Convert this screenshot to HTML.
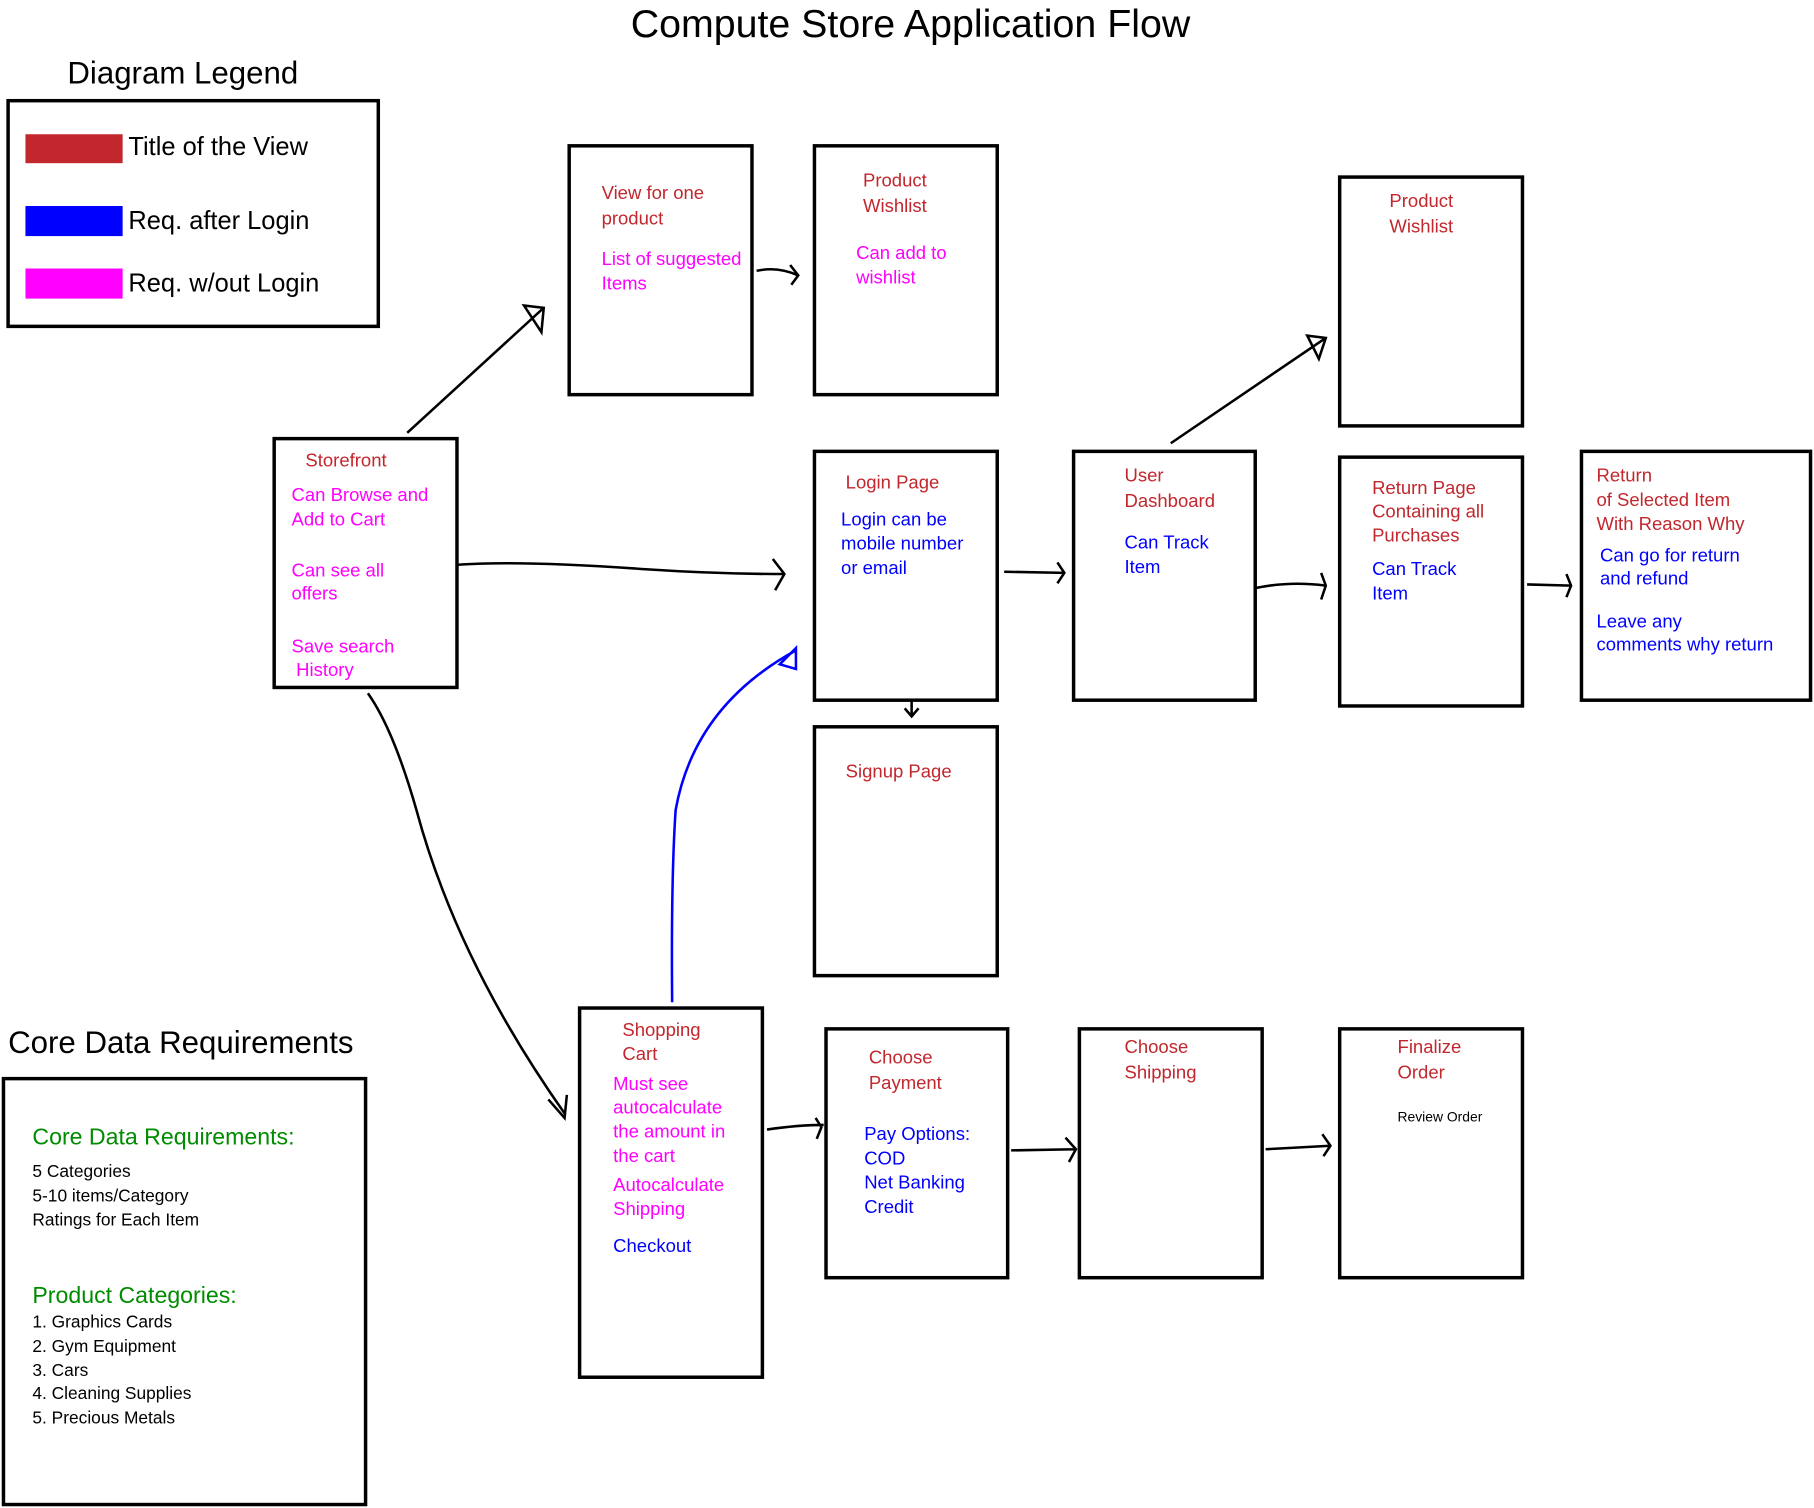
<!DOCTYPE html>
<html><head><meta charset="utf-8"><style>
html,body{margin:0;padding:0;background:#fff;}
svg{display:block;}
text{font-family:"Liberation Sans","DejaVu Sans",sans-serif;}
.r{fill:#c1272d;font-size:16px;}
.m{fill:#ff00ff;font-size:16px;}
.b{fill:#0000ff;font-size:16px;}
.k{fill:#000;font-size:15px;}
.g{fill:#008c00;font-size:20px;}
.box{fill:none;stroke:#000;stroke-width:3;}
.ln{fill:none;stroke:#000;stroke-width:2.2;}
</style></head><body>
<svg width="1814" height="1508" viewBox="0 0 1568 1303" preserveAspectRatio="none" xmlns="http://www.w3.org/2000/svg">
<text x="787" y="32" text-anchor="middle" font-size="34" fill="#000">Compute Store Application Flow</text>
<text x="158" y="72" text-anchor="middle" font-size="27" fill="#000">Diagram Legend</text>
<rect x="7" y="87" width="320" height="195" class="box"/>
<rect x="22" y="116" width="84" height="25" fill="#c1272d"/>
<rect x="22" y="178" width="84" height="26" fill="#0000ff"/>
<rect x="22" y="232" width="84" height="26" fill="#ff00ff"/>
<text x="111" y="134" font-size="22">Title of the View</text>
<text x="111" y="198" font-size="22">Req. after Login</text>
<text x="111" y="252" font-size="22">Req. w/out Login</text>

<text x="7" y="910" font-size="27" fill="#000">Core Data Requirements</text>
<rect x="3" y="932" width="313" height="368" class="box"/>
<text x="28" y="989" class="g">Core Data Requirements:</text>
<text x="28" y="1017" class="k">5 Categories</text>
<text x="28" y="1038" class="k">5-10 items/Category</text>
<text x="28" y="1059" class="k">Ratings for Each Item</text>
<text x="28" y="1126" class="g">Product Categories:</text>
<text x="28" y="1147" class="k">1. Graphics Cards</text>
<text x="28" y="1168" class="k">2. Gym Equipment</text>
<text x="28" y="1189" class="k">3. Cars</text>
<text x="28" y="1209" class="k">4. Cleaning Supplies</text>
<text x="28" y="1230" class="k">5. Precious Metals</text>

<!-- boxes -->
<rect x="237" y="379" width="158" height="215" class="box"/>
<text x="264" y="403" class="r">Storefront</text>
<text x="252" y="433" class="m">Can Browse and</text>
<text x="252" y="454" class="m">Add to Cart</text>
<text x="252" y="498" class="m">Can see all</text>
<text x="252" y="518" class="m">offers</text>
<text x="252" y="564" class="m">Save search</text>
<text x="256" y="584" class="m">History</text>

<rect x="492" y="126" width="158" height="215" class="box"/>
<text x="520" y="172" class="r">View for one</text>
<text x="520" y="194" class="r">product</text>
<text x="520" y="229" class="m">List of suggested</text>
<text x="520" y="250" class="m">Items</text>

<rect x="704" y="126" width="158" height="215" class="box"/>
<text x="746" y="161" class="r">Product</text>
<text x="746" y="183" class="r">Wishlist</text>
<text x="740" y="224" class="m">Can add to</text>
<text x="740" y="245" class="m">wishlist</text>

<rect x="1158" y="153" width="158" height="215" class="box"/>
<text x="1201" y="179" class="r">Product</text>
<text x="1201" y="201" class="r">Wishlist</text>

<rect x="704" y="390" width="158" height="215" class="box"/>
<text x="731" y="422" class="r">Login Page</text>
<text x="727" y="454" class="b">Login can be</text>
<text x="727" y="475" class="b">mobile number</text>
<text x="727" y="496" class="b">or email</text>

<rect x="704" y="628" width="158" height="215" class="box"/>
<text x="731" y="672" class="r">Signup Page</text>

<rect x="928" y="390" width="157" height="215" class="box"/>
<text x="972" y="416" class="r">User</text>
<text x="972" y="438" class="r">Dashboard</text>
<text x="972" y="474" class="b">Can Track</text>
<text x="972" y="495" class="b">Item</text>

<rect x="1158" y="395" width="158" height="215" class="box"/>
<text x="1186" y="427" class="r">Return Page</text>
<text x="1186" y="447" class="r">Containing all</text>
<text x="1186" y="468" class="r">Purchases</text>
<text x="1186" y="497" class="b">Can Track</text>
<text x="1186" y="518" class="b">Item</text>

<rect x="1367" y="390" width="198" height="215" class="box"/>
<text x="1380" y="416" class="r">Return</text>
<text x="1380" y="437" class="r">of Selected Item</text>
<text x="1380" y="458" class="r">With Reason Why</text>
<text x="1383" y="485" class="b">Can go for return</text>
<text x="1383" y="505" class="b">and refund</text>
<text x="1380" y="542" class="b">Leave any</text>
<text x="1380" y="562" class="b">comments why return</text>

<rect x="501" y="871" width="158" height="319" class="box"/>
<text x="538" y="895" class="r">Shopping</text>
<text x="538" y="916" class="r">Cart</text>
<text x="530" y="942" class="m">Must see</text>
<text x="530" y="962" class="m">autocalculate</text>
<text x="530" y="983" class="m">the amount in</text>
<text x="530" y="1004" class="m">the cart</text>
<text x="530" y="1029" class="m">Autocalculate</text>
<text x="530" y="1050" class="m">Shipping</text>
<text x="530" y="1082" class="b">Checkout</text>

<rect x="714" y="889" width="157" height="215" class="box"/>
<text x="751" y="919" class="r">Choose</text>
<text x="751" y="941" class="r">Payment</text>
<text x="747" y="985" class="b">Pay Options:</text>
<text x="747" y="1006" class="b">COD</text>
<text x="747" y="1027" class="b">Net Banking</text>
<text x="747" y="1048" class="b">Credit</text>

<rect x="933" y="889" width="158" height="215" class="box"/>
<text x="972" y="910" class="r">Choose</text>
<text x="972" y="932" class="r">Shipping</text>

<rect x="1158" y="889" width="158" height="215" class="box"/>
<text x="1208" y="910" class="r">Finalize</text>
<text x="1208" y="932" class="r">Order</text>
<text x="1208" y="969" font-size="12" fill="#000">Review Order</text>

<!-- connectors -->
<path class="ln" d="M352 374 L470 266 M453 264 L470 266 L468 287 Z"/>
<path class="ln" d="M654 234 Q672 230 690 238 M683 229 L690 238 L684 246"/>
<path class="ln" d="M396 488 Q450 484 560 492 Q620 496 678 496 M668 483 L678 496 L670 510"/>
<path class="ln" d="M868 494 L920 495 M914 486 L920 495 L914 504"/>
<path class="ln" d="M1012 383 L1146 292 M1130 290 L1146 292 L1140 310 Z"/>
<path class="ln" d="M1086 508 Q1115 502 1146 506 M1142 495 L1146 506 L1142 518"/>
<path class="ln" d="M1320 505 L1358 506 M1354 496 L1358 506 L1354 516"/>
<path class="ln" d="M788 605 L788 618 M782 612 L788 619 L794 612"/>
<path class="ln" d="M318 599 Q340 630 360 700 Q395 830 488 962 M474 950 L488 966 L490 946"/>
<path class="ln" d="M663 976 Q690 972 712 972 M705 966 L710 974 L706 984"/>
<path class="ln" d="M874 994 L930 993 M921 983 L930 993 L924 1004"/>
<path class="ln" d="M1094 993 L1150 990 M1143 980 L1150 990 L1144 999"/>
<path fill="none" stroke="#0000ff" stroke-width="2.2" d="M581 866 Q580 760 584 700 Q600 610 688 562 M674 574 L688 560 L688 578 Z"/>
</svg>
</body></html>
